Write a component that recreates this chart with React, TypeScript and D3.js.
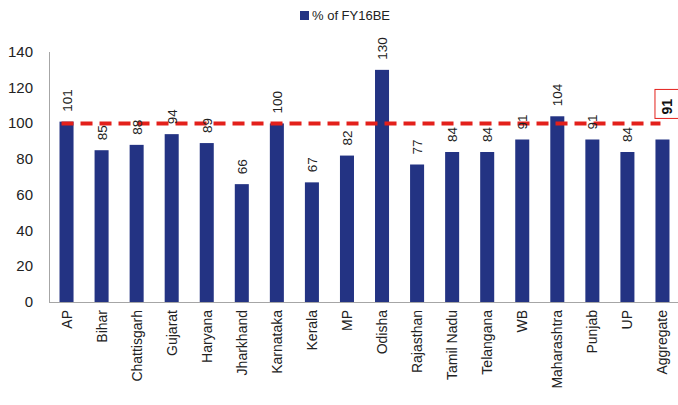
import React, { useEffect, useRef } from "react";
import * as d3 from "d3";

const states = [
  "AP", "Bihar", "Chattisgarh", "Gujarat", "Haryana", "Jharkhand", "Karnataka",
  "Kerala", "MP", "Odisha", "Rajasthan", "Tamil Nadu", "Telangana", "WB",
  "Maharashtra", "Punjab", "UP", "Aggregate",
];
const pctOfBE = [101, 85, 88, 94, 89, 66, 100, 67, 82, 130, 77, 84, 84, 91, 104, 91, 84, 91];
const yTicks = [0, 20, 40, 60, 80, 100, 120, 140];
const refLine = 100;

const FONT = "'Liberation Sans', Arial, sans-serif";
const BAR = "#233383";

const App: React.FC = () => {
  const svgRef = useRef<SVGSVGElement>(null);

  useEffect(() => {
    if (!svgRef.current) return;
    const svg = d3.select(svgRef.current);
    svg.selectAll("*").remove();

    const W = 678, H = 405;
    const left = 49, right = 680, top = 52, bottom = 302;

    const x = d3.scaleBand().domain(states).range([left, right]).paddingInner(0.6).paddingOuter(0.3);
    const y = d3.scaleLinear().domain([0, 140]).range([bottom, top]);

    svg.attr("width", W).attr("height", H);

    // legend
    svg.append("rect").attr("x", 300).attr("y", 11).attr("width", 9).attr("height", 9).attr("fill", BAR);
    svg.append("text").attr("x", 312).attr("y", 20).attr("font-family", FONT).attr("font-size", 13)
      .attr("fill", "#222").text("% of FY16BE");

    // axes lines
    svg.append("line").attr("x1", left + 0.5).attr("x2", left + 0.5).attr("y1", top).attr("y2", bottom)
      .attr("stroke", "#a6a6a6");
    svg.append("line").attr("x1", left).attr("x2", right).attr("y1", bottom + 0.5).attr("y2", bottom + 0.5)
      .attr("stroke", "#a6a6a6");

    // y tick labels
    svg.append("g").selectAll("text").data(yTicks).enter().append("text")
      .attr("x", 33).attr("y", (d) => y(d) + 5).attr("text-anchor", "end")
      .attr("font-family", FONT).attr("font-size", 15).attr("fill", "#222").text((d) => d);

    // bars
    svg.append("g").selectAll("rect").data(pctOfBE).enter().append("rect")
      .attr("x", (_d, i) => x(states[i])!)
      .attr("y", (d) => y(d))
      .attr("width", x.bandwidth())
      .attr("height", (d) => bottom - y(d))
      .attr("fill", BAR);

    // category labels
    svg.append("g").selectAll("text").data(states).enter().append("text")
      .attr("transform", (d) => `translate(${x(d)! + x.bandwidth() / 2 + 5},310) rotate(-90)`)
      .attr("text-anchor", "end")
      .attr("font-family", FONT).attr("font-size", 14).attr("fill", "#222").text((d) => d);

    // reference line
    svg.append("line").attr("x1", x(states[0])! + 2).attr("x2", x(states[states.length - 1])! + 5)
      .attr("y1", y(refLine)).attr("y2", y(refLine))
      .attr("stroke", "#e3201b").attr("stroke-width", 4).attr("stroke-dasharray", "12,7");

    // value labels
    const last = states.length - 1;
    svg.append("g").selectAll("text").data(pctOfBE.slice(0, last)).enter().append("text")
      .attr("transform", (d, i) => `translate(${x(states[i])! + x.bandwidth() / 2 + 5},${y(d) - 10}) rotate(-90)`)
      .attr("text-anchor", "start")
      .attr("font-family", FONT).attr("font-size", 13.5)
      .attr("fill", "#222").text((d) => d);

    // highlighted aggregate label in a box
    const ax = x(states[last])! + x.bandwidth() / 2;
    const boxBottom = y(refLine) - 5;
    svg.append("rect").attr("x", ax - 7.5).attr("y", boxBottom - 29).attr("width", 40).attr("height", 29)
      .attr("fill", "#fff").attr("stroke", "#e3201b").attr("stroke-width", 1);
    svg.append("text")
      .attr("transform", `translate(${ax + 10},${boxBottom - 4}) rotate(-90)`)
      .attr("font-family", FONT).attr("font-size", 14).attr("font-weight", "bold")
      .attr("fill", "#111").text(pctOfBE[last]);
  }, []);

  return <svg ref={svgRef} style={{ position: "absolute", left: 0, top: 0 }}></svg>;
};

export default App;
